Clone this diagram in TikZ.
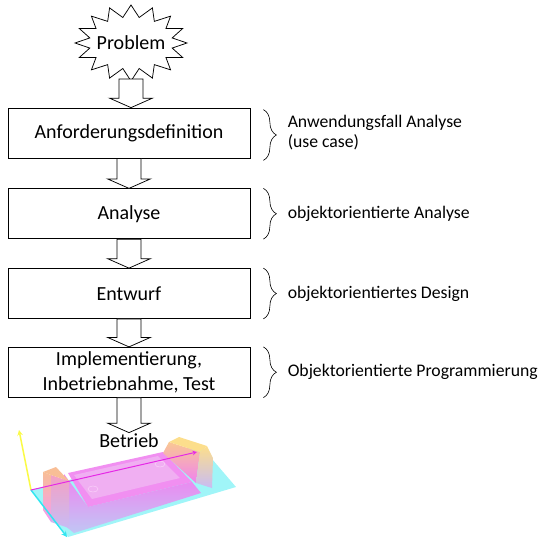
\documentclass[tikz,border=0pt]{standalone}
\usepackage{fontspec}
\setmainfont{Carlito}
\usetikzlibrary{positioning,calc,decorations.pathreplacing}

\definecolor{meshpink}{RGB}{240,130,240}
\definecolor{meshlight}{RGB}{240,175,242}
\definecolor{meshcyan}{RGB}{160,245,248}
\definecolor{meshorange}{RGB}{248,190,150}
\definecolor{meshyellow}{RGB}{252,222,140}
\definecolor{axmag}{RGB}{230,40,230}
\definecolor{axyel}{RGB}{250,250,70}
\definecolor{axcyan}{RGB}{50,230,240}

\newcommand\flowarrow[2]{%
 \draw[draw=black, fill=white] let \p1=(#1), \p2=(#2) in
  (\x1-12pt,\y1) -- (\x1+12pt,\y1) -- (\x1+12pt,\y2+9.5pt) -- (\x1+21.5pt,\y2+9.5pt)
  -- (\x1,\y2) -- (\x1-21.5pt,\y2+9.5pt) -- (\x1-12pt,\y2+9.5pt) -- cycle;}

\begin{document}
\begin{tikzpicture}[x=1pt,y=-1pt,line width=0.75pt]
 \tikzset{stage/.style = {draw, fill=white, minimum width=242pt, minimum height=50pt, align=center, font=\fontsize{20}{24.5}\selectfont}}
 \tikzset{note/.style = {inner sep=0pt, align=left, font=\fontsize{17.7}{20}\selectfont}}
 \tikzset{curly/.style = {decoration={brace,amplitude=13pt},decorate,line width=0.6pt}}
 \tikzset{axis/.style = {line width=1.5pt,-stealth}}

 \useasboundingbox (0,0) rectangle (542,538);

 % problem
 \node (prob) at (131,43) {\fontsize{20}{24}\selectfont Problem};
 \draw ($(prob.center)+(90:56 and 38)$)
   \foreach \a in {90,112.5,...,427.5} { -- ($(prob.center)+(\a:56 and 38)$) -- ($(prob.center)+({\a+11.25}:42 and 26)$) } -- cycle;
 \coordinate (prob-s) at (131,79);

 % stages
 \node[stage] (anf) at (129,133) {Anforderungsdefinition};
 \node[stage, below=30pt of anf] (ana) {Analyse};
 \node[stage, below=29pt of ana] (entw) {Entwurf};
 \node[stage, below=28pt of entw] (impl) {Implementierung,\\Inbetriebnahme, Test};
 \node[below=35pt of impl, inner sep=1pt, font=\fontsize{20}{24}\selectfont] (betr) {Betrieb};

 \flowarrow{prob-s}{anf.north}
 \flowarrow{anf.south}{ana.north}
 \flowarrow{ana.south}{entw.north}
 \flowarrow{entw.south}{impl.north}
 \flowarrow{impl.south}{betr.north}

 % braces and notes
 \draw[curly] ([xshift=13pt,yshift=-2pt]anf.north east) -- ([xshift=13pt,yshift=-2pt]anf.south east);
 \draw[curly] ([xshift=13pt]ana.north east) -- ([xshift=13pt]ana.south east);
 \draw[curly] ([xshift=13pt]entw.north east) -- ([xshift=13pt]entw.south east);
 \draw[curly] ([xshift=13pt]impl.north east) -- ([xshift=13pt]impl.south east);
 \node[note, right=37pt of anf.east] (anf-n) {Anwendungsfall Analyse\\(use case)};
 \node[note, right=37pt of ana.east] (ana-n) {objektorientierte Analyse};
 \node[note, right=37pt of entw.east] (entw-n) {objektorientiertes Design};
 \node[note, right=37pt of impl.east] (impl-n) {Objektorientierte Programmierung};

 % operation: part model
 \fill[meshcyan] (31,490) -- (68,537) -- (236,487) -- (200,445) -- cycle;
 \shade[top color=meshpink, bottom color=meshpink!40!meshcyan] (64,474) -- (88,507) -- (192,482) -- (201,493) -- (74,533) -- (64,525) -- cycle;
 \fill[meshpink!90!white] (68,473) -- (163,452) -- (192,482) -- (88,507) -- cycle;
 \fill[meshlight] (74,475) -- (158,456) -- (180,478) -- (92,499) -- cycle;
 \draw[meshpink!40!white, line width=0.6pt] (93,489) ellipse (5 and 3) (160,464) ellipse (5 and 3);
 \shade[top color=meshorange, bottom color=meshpink!80] (43,472) -- (51,475) -- (51,522) -- (43,510) -- cycle;
 \shade[top color=meshorange!50!meshpink, bottom color=meshpink!50!meshcyan] (51,475) -- (69,481) -- (69,528) -- (51,522) -- cycle;
 \fill[meshorange] (43,472) -- (56,467) -- (69,481) -- (51,475) -- cycle;
 \shade[top color=meshorange!70!meshyellow, bottom color=meshpink] (163,453) -- (169,442) -- (200,452) -- (196,483) -- cycle;
 \fill[meshyellow] (169,442) -- (179,437) -- (207,446) -- (200,452) -- cycle;
 \shade[top color=meshyellow, bottom color=meshpink!50!meshcyan] (200,452) -- (207,446) -- (213,458) -- (212,488) -- (196,483) -- cycle;
 \draw[axis, axyel] (31,490) -- (19,430);
 \draw[axis, axcyan] (31,490) -- (67,537);
 \draw[axis, axmag, line width=1pt] (31,490) -- (197,452);
\end{tikzpicture}
\end{document}
